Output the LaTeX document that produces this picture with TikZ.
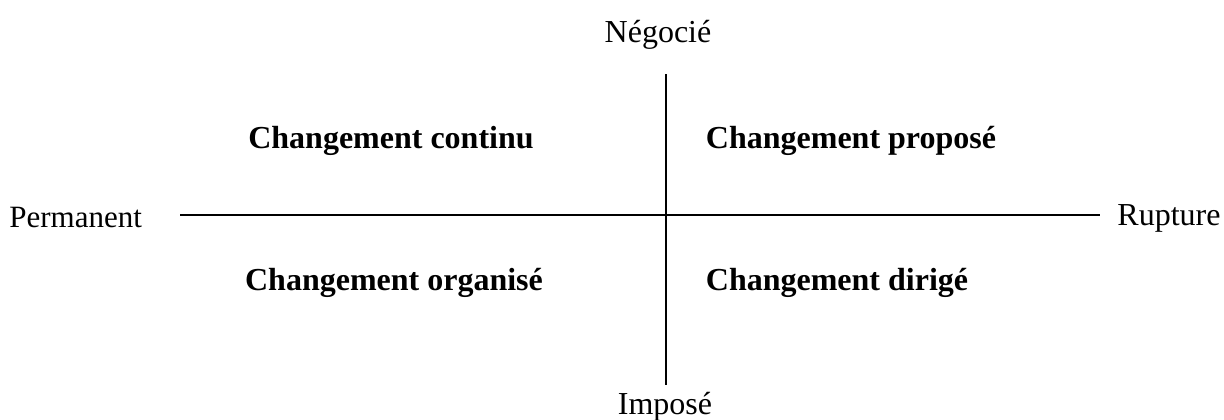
\documentclass[tikz,border=0pt]{standalone}
\usepackage{fontspec}
\setmainfont{Liberation Serif}
\begin{document}
\begin{tikzpicture}[x=0.5pt,y=-0.5pt,
  axis/.style={line width=1pt,black},
  lbl/.style={inner sep=0pt,anchor=base,font=\fontsize{16}{19}\selectfont},
  quad/.style={inner sep=0pt,anchor=base,font=\fontsize{16}{19}\selectfont\bfseries}]
\useasboundingbox (0,0) rectangle (1224,419);
\coordinate (L) at (180,215);
\coordinate (R) at (1100,215);
\coordinate (T) at (666,74);
\coordinate (B) at (666,385);
\draw[axis] (L) -- (R);
\draw[axis] (T) -- (B);
\node[lbl] (neg) at (658,42) {Négocié};
\node[lbl] (imp) at (665,414) {Imposé};
\node[lbl,anchor=base west,font=\fontsize{15.5}{19}\selectfont] (perm) at (9,227) {Permanent};
\node[lbl,anchor=base west] (rup) at (1117,225) {Rupture};
\node[quad] (cc) at (391,148) {Changement continu};
\node[quad] (cp) at (851,148) {Changement proposé};
\node[quad] (co) at (394,290) {Changement organisé};
\node[quad] (cd) at (837,290) {Changement dirigé};
\end{tikzpicture}
\end{document}
